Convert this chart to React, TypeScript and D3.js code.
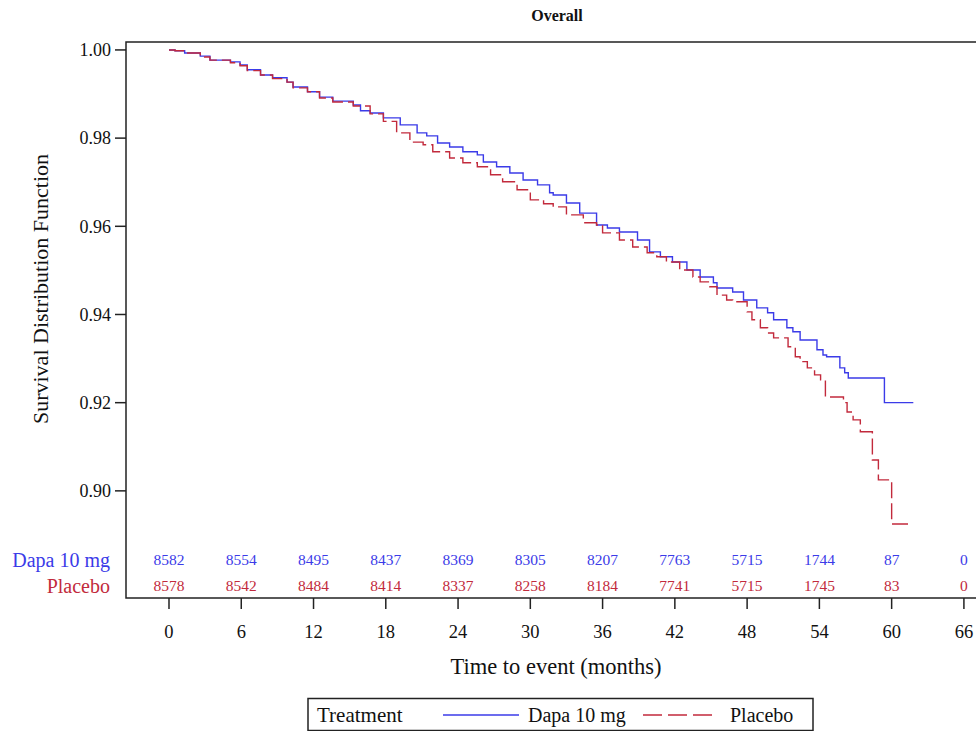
import React from "react";
import * as d3 from "d3";

const dapaTimes = [0, 0.5, 1.3, 2.6, 3.4, 5.1, 5.9, 6.5, 7.6, 8.6, 9.8, 10.3, 11.5, 12.5, 13.6, 15.3, 15.9, 16.7, 17.8, 19.2, 20.6, 21.4, 22.3, 23.3, 24.4, 25.6, 26.1, 27.2, 28.3, 29.4, 30.6, 31.6, 31.9, 33.0, 34.1, 35.5, 36.4, 37.4, 38.9, 39.9, 40.8, 41.8, 43.0, 44.1, 45.2, 45.5, 46.8, 47.7, 48.8, 49.7, 50.2, 51.3, 51.8, 52.4, 53.8, 54.3, 54.6, 55.7, 56.1, 56.4, 59.4, 61.8];
const dapaSurv = [1.0, 0.9998, 0.9993, 0.9986, 0.9977, 0.9973, 0.9966, 0.9955, 0.9943, 0.9937, 0.9927, 0.9916, 0.9905, 0.9893, 0.9884, 0.9875, 0.9862, 0.9857, 0.9846, 0.983, 0.9812, 0.9805, 0.9789, 0.978, 0.9769, 0.9762, 0.9746, 0.9735, 0.9721, 0.9705, 0.9694, 0.9676, 0.9671, 0.9653, 0.963, 0.9603, 0.9596, 0.9587, 0.9569, 0.9542, 0.9531, 0.9519, 0.9501, 0.9485, 0.9472, 0.946, 0.9451, 0.9433, 0.9415, 0.9404, 0.9388, 0.937, 0.9361, 0.9342, 0.932, 0.9308, 0.9304, 0.9279, 0.9268, 0.9256, 0.92, 0.92];

const placeboTimes = [0, 0.5, 1.3, 2.6, 3.4, 5.1, 5.9, 6.5, 7.6, 8.6, 9.8, 10.3, 11.5, 12.5, 13.6, 15.3, 16.7, 17.8, 18.9, 20.0, 21.1, 21.9, 23.3, 24.4, 25.6, 26.7, 27.7, 28.9, 30.0, 31.1, 31.9, 33.0, 34.4, 35.5, 36.0, 37.4, 38.5, 39.7, 40.5, 41.3, 42.4, 43.5, 44.1, 44.9, 45.5, 46.3, 46.8, 48.0, 48.4, 49.1, 49.7, 50.2, 51.4, 52.0, 52.4, 53.0, 53.6, 54.1, 54.5, 56.0, 56.3, 56.8, 57.4, 58.4, 58.9, 60.0, 61.6];
const placeboSurv = [1.0, 0.9998, 0.9993, 0.9984, 0.9977, 0.9971, 0.9964, 0.9953, 0.9943, 0.9935, 0.9927, 0.9914, 0.9905, 0.9891, 0.9882, 0.9873, 0.9855, 0.9838, 0.9812, 0.9791, 0.9785, 0.9769, 0.9755, 0.9744, 0.9735, 0.9717, 0.9701, 0.9683, 0.966, 0.9651, 0.9644, 0.9626, 0.9608, 0.9603, 0.9585, 0.9569, 0.9553, 0.954, 0.9531, 0.9519, 0.9501, 0.9485, 0.9474, 0.9463, 0.9444, 0.9433, 0.9429, 0.9406, 0.9388, 0.937, 0.9358, 0.9347, 0.9327, 0.9304, 0.9293, 0.9279, 0.9263, 0.9252, 0.9213, 0.92, 0.9179, 0.9161, 0.9134, 0.907, 0.9025, 0.8925, 0.8925];

const xTicks = [0, 6, 12, 18, 24, 30, 36, 42, 48, 54, 60, 66];
const yTicks = [0.9, 0.92, 0.94, 0.96, 0.98, 1.0];
const dapaAtRisk = [8582, 8554, 8495, 8437, 8369, 8305, 8207, 7763, 5715, 1744, 87, 0];
const placeboAtRisk = [8578, 8542, 8484, 8414, 8337, 8258, 8184, 7741, 5715, 1745, 83, 0];

const seriesNames = ["Dapa 10 mg", "Placebo"];
const titleText = "Overall";
const xTitle = "Time to event (months)";
const yTitle = "Survival Distribution Function";
const legendTitle = "Treatment";

const BLUE = "#3b3be8";
const RED = "#c22a3c";
const FONT = "'Liberation Serif', 'Times New Roman', serif";

export default function App() {
  const W = 976, H = 731;
  const L = 126, R = 988, T = 42, B = 598;
  const x = d3.scaleLinear().domain([-3.57, 68.0]).range([L, R]);
  const y = d3.scaleLinear().domain([0.8757, 1.0018]).range([B, T]);
  const line = d3.line<[number, number]>()
    .x((d) => x(d[0]))
    .y((d) => y(d[1]))
    .curve(d3.curveStepAfter);
  const dapaPts = dapaTimes.map((t, i) => [t, dapaSurv[i]] as [number, number]);
  const placeboPts = placeboTimes.map((t, i) => [t, placeboSurv[i]] as [number, number]);
  const fmt = d3.format(".2f");

  return (
    <svg width={W} height={H} style={{ position: "absolute", left: 0, top: 0, background: "#fff" }} fontFamily={FONT}>
      <rect x={0} y={0} width={W} height={H} fill="#fff" />
      <text x={(L + R) / 2} y={21} textAnchor="middle" fontSize={16} fontWeight="bold" fill="#111">{titleText}</text>

      {/* curves */}
      <path d={line(dapaPts) || ""} fill="none" stroke={BLUE} strokeWidth={1.4} />
      <path d={line(placeboPts) || ""} fill="none" stroke={RED} strokeWidth={1.4} strokeDasharray="16 5" />

      {/* frame */}
      <rect x={L} y={T} width={R - L} height={B - T} fill="none" stroke="#222" strokeWidth={1.5} />

      {/* y axis */}
      {yTicks.map((v) => (
        <g key={v}>
          <line x1={L - 11} x2={L} y1={y(v)} y2={y(v)} stroke="#222" strokeWidth={1.5} />
          <text x={L - 15} y={y(v)} dy="0.35em" textAnchor="end" fontSize={18} fill="#111">{fmt(v)}</text>
        </g>
      ))}
      <text transform={`translate(40,289) rotate(-90)`} x={0} y={0} dy="0.35em" textAnchor="middle" fontSize={22} fill="#111">{yTitle}</text>

      {/* x axis */}
      {xTicks.map((v) => (
        <g key={v}>
          <line x1={x(v)} x2={x(v)} y1={B} y2={B + 11} stroke="#222" strokeWidth={1.5} />
          <text x={x(v)} y={B + 34} dy="0.35em" textAnchor="middle" fontSize={18.5} fill="#111">{v}</text>
        </g>
      ))}
      <text x={(L + R) / 2 - 1} y={674} textAnchor="middle" fontSize={22.5} fill="#111">{xTitle}</text>

      {/* at risk */}
      <text x={110} y={560} dy="0.35em" textAnchor="end" fontSize={20} fill={BLUE}>{seriesNames[0]}</text>
      <text x={110} y={586} dy="0.35em" textAnchor="end" fontSize={20} fill={RED}>{seriesNames[1]}</text>
      {xTicks.map((v, i) => (
        <g key={"r" + v}>
          <text x={x(v)} y={560} dy="0.35em" textAnchor="middle" fontSize={15.5} fill={BLUE}>{dapaAtRisk[i]}</text>
          <text x={x(v)} y={586} dy="0.35em" textAnchor="middle" fontSize={15.5} fill={RED}>{placeboAtRisk[i]}</text>
        </g>
      ))}

      {/* legend */}
      <rect x={308} y={698.5} width={505} height={32} fill="none" stroke="#222" strokeWidth={1.5} />
      <text x={317} y={715} dy="0.35em" fontSize={21} fill="#111">{legendTitle}</text>
      <line x1={443} x2={519} y1={715} y2={715} stroke={BLUE} strokeWidth={1.4} />
      <text x={528} y={715} dy="0.35em" fontSize={20} fill="#111">{seriesNames[0]}</text>
      <line x1={643} x2={714} y1={715} y2={715} stroke={RED} strokeWidth={1.4} strokeDasharray="19 6" />
      <text x={730} y={715} dy="0.35em" fontSize={20} fill="#111">{seriesNames[1]}</text>
    </svg>
  );
}
